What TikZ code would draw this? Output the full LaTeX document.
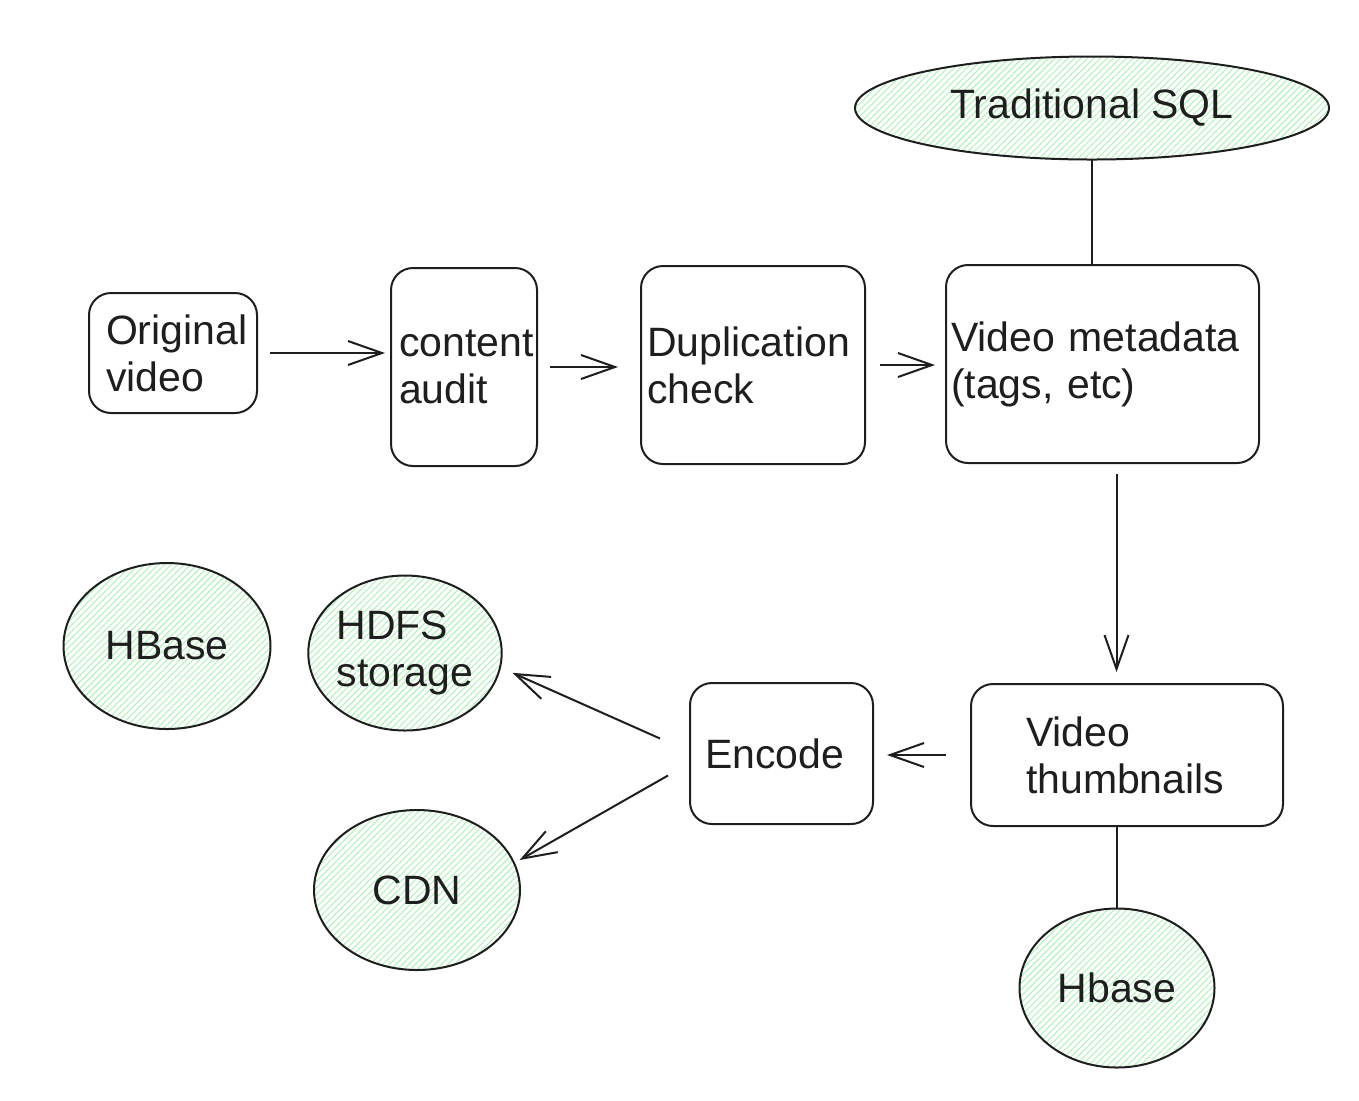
\documentclass[tikz,border=0pt]{standalone}
\usepackage{fontspec}
\setmainfont{Liberation Sans}
\usepackage{xcolor}
\definecolor{colorInk}{HTML}{1E1E1E}
\definecolor{colorHatch}{HTML}{B2F2BB}
\usepackage{tikz}
\usetikzlibrary{arrows.meta, shapes.geometric, patterns.meta}
\tikzset{
  box/.style={draw=colorInk, line width=1pt, rounded corners=11pt, align=left, anchor=north west, inner ysep=0pt},
  store/.style={ellipse, draw=colorInk, line width=1pt, inner sep=0pt, pattern={Lines[angle=45,distance=2.3pt,line width=0.55pt]}, pattern color=colorHatch},
  flow/.style={-{Straight Barb[length=17pt,width=12pt]}, line width=1pt, draw=colorInk},
  link/.style={line width=1pt, draw=colorInk}
}

\begin{document}
\begin{tikzpicture}[x=0.5pt, y=-0.5pt, font=\fontsize{20.5}{23.5}\selectfont, text=colorInk]
\useasboundingbox (0,0) rectangle (1359,1100);
\node[box, text width=67pt, inner xsep=8.5pt, minimum height=60pt] (orig) at (88,292) {Original\\video};
\node[box, text width=65pt, inner xsep=4pt, minimum height=99pt] (audit) at (390,267) {content\\audit};
\node[box, text width=106pt, inner xsep=3pt, minimum height=99pt] (dup) at (640,265) {Duplication\\check};
\node[box, text width=151.5pt, inner xsep=2.5pt, minimum height=99pt] (meta) at (945,264) {Video metadata\\(tags, etc)};
\node[box, text width=101pt, inner xsep=27.5pt, minimum height=71pt] (thumb) at (970,683) {Video\\thumbnails};
\node[box, text width=76.5pt, inner xsep=7.5pt, minimum height=70.5pt] (enc) at (689,682) {Encode};
\node[store, minimum width=237pt, minimum height=51.5pt] (sql) at (1092,108) {Traditional SQL};
\node[store, minimum width=103.5pt, minimum height=83pt] (hbaseA) at (167,646) {HBase};
\node[store, align=left, minimum width=92.5pt, minimum height=77.5pt] (hdfs) at (405,653) {HDFS\\storage};
\node[store, minimum width=103pt, minimum height=80pt] (cdn) at (417,890) {CDN};
\node[store, minimum width=97.5pt, minimum height=79.5pt] (hbaseB) at (1117,988) {Hbase};
\draw[flow, shorten <=6pt, shorten >=2.5pt] (orig.east) -- (orig.east -| audit.west);
\draw[flow, shorten <=6pt, shorten >=11pt] (audit.east) -- (audit.east -| dup.west);
\draw[flow, shorten <=7pt, shorten >=5pt] (dup.east) -- (dup.east -| meta.west);
\draw[link] (sql.south) -- (sql.south |- meta.north);
\draw[flow, shorten <=5pt, shorten >=5.5pt] ([xshift=7pt]meta.south) -- ([xshift=7pt]meta.south |- thumb.north);
\draw[flow, shorten <=12pt, shorten >=6.5pt] (thumb.west) -- (thumb.west -| enc.east);
\draw[link] (thumb.south -| hbaseB.north) -- (hbaseB.north);
\draw[flow] ([shift={(-29,-15)}]enc.west) -- ([shift={(12,3)}]hdfs.-10);
\draw[flow] ([shift={(-21,22)}]enc.west) -- ([shift={(5,-2)}]cdn.16);
\end{tikzpicture}
\end{document}
